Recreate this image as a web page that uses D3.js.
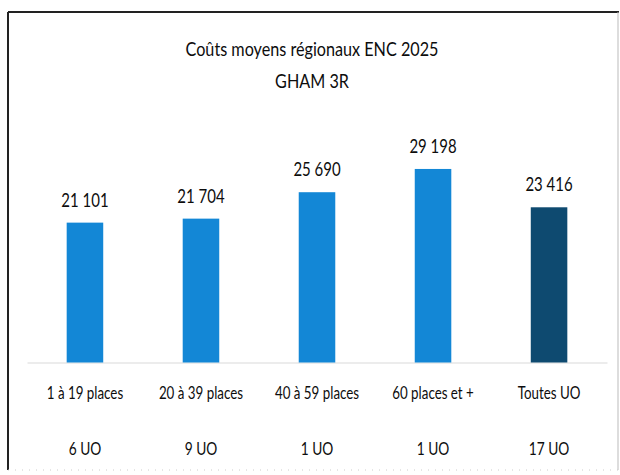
<!DOCTYPE html>
<html>
<head>
<meta charset="utf-8">
<script src="https://cdn.jsdelivr.net/npm/d3@7/dist/d3.min.js"></script>
<style>
  html, body { margin: 0; padding: 0; background: #ffffff; }
  svg { display: block; }
  text { font-family: Lato, "Open Sans", sans-serif; fill: #0d0d0d; }
</style>
</head>
<body>
<svg id="chart" width="620" height="475"></svg>
<script>
const titleLines = ["Coûts moyens régionaux ENC 2025", "GHAM 3R"];
const categories = ["1 à 19 places", "20 à 39 places", "40 à 59 places", "60 places et +", "Toutes UO"];
const uoLabels = ["6 UO", "9 UO", "1 UO", "1 UO", "17 UO"];
const values = [21101, 21704, 25690, 29198, 23416];
const valueLabels = ["21 101", "21 704", "25 690", "29 198", "23 416"];
const barColors = ["#1387d6", "#1387d6", "#1387d6", "#1387d6", "#0e4a70"];

const svg = d3.select("#chart");

// frame (scanned page box)
svg.append("line").attr("x1", 8).attr("y1", 12).attr("x2", 619).attr("y2", 12)
  .attr("stroke", "#222").attr("stroke-width", 2);
svg.append("line").attr("x1", 8).attr("y1", 12).attr("x2", 8).attr("y2", 470)
  .attr("stroke", "#222").attr("stroke-width", 2);
svg.append("line").attr("x1", 618).attr("y1", 12).attr("x2", 618).attr("y2", 470)
  .attr("stroke", "#bbb").attr("stroke-width", 1);
svg.append("line").attr("x1", 8).attr("y1", 470).attr("x2", 618).attr("y2", 470)
  .attr("stroke", "#ccc").attr("stroke-width", 1).attr("stroke-dasharray", "1,6");

// condensed text helper (the scanned Calibri is narrow)
let K = 1;
function place(sel, fx, fy) {
  sel.attr("x", 0).attr("y", 0)
     .attr("transform", (d, i) => `translate(${fx(d, i)},${fy(d, i)}) scale(${K},1)`);
}

// title
const title = svg.selectAll("text.title").data(titleLines).join("text")
  .attr("class", "title")
  .attr("text-anchor", "middle")
  .style("font-size", "20px")
  .text(d => d);
K = 253 / title.node().getComputedTextLength();
place(title, () => 312, (d, i) => 56 + i * 32);

const x = d3.scaleBand().domain(categories).range([27, 607]).paddingInner(0.685).paddingOuter(0.342);
const y = d3.scaleLinear().domain([0, 35000]).range([362.5, 130.5]);

// axis baseline
const axis = svg.append("g").attr("transform", `translate(0,${y(0)})`)
  .call(d3.axisBottom(x).tickSize(0).tickFormat(""));
axis.select(".domain").attr("stroke", "#d9d9d9").attr("stroke-width", 1.2);

// bars
svg.selectAll("rect.bar").data(values).join("rect")
  .attr("class", "bar")
  .attr("x", (d, i) => x(categories[i]))
  .attr("width", x.bandwidth())
  .attr("y", d => y(d))
  .attr("height", d => y(0) - y(d))
  .attr("fill", (d, i) => barColors[i]);

const cx = i => x(categories[i]) + x.bandwidth() / 2;

// value labels
place(svg.selectAll("text.val").data(values).join("text")
  .attr("class", "val")
  .attr("text-anchor", "middle")
  .style("font-size", "18.5px")
  .text((d, i) => valueLabels[i]),
  (d, i) => cx(i), d => y(d) - 16);

// category labels
place(svg.selectAll("text.cat").data(categories).join("text")
  .attr("class", "cat")
  .attr("text-anchor", "middle")
  .style("font-size", "16.5px")
  .text(d => d),
  (d, i) => cx(i), () => 399);

// UO labels
place(svg.selectAll("text.uo").data(uoLabels).join("text")
  .attr("class", "uo")
  .attr("text-anchor", "middle")
  .style("font-size", "17px")
  .text(d => d),
  (d, i) => cx(i), () => 455);
</script>
</body>
</html>
